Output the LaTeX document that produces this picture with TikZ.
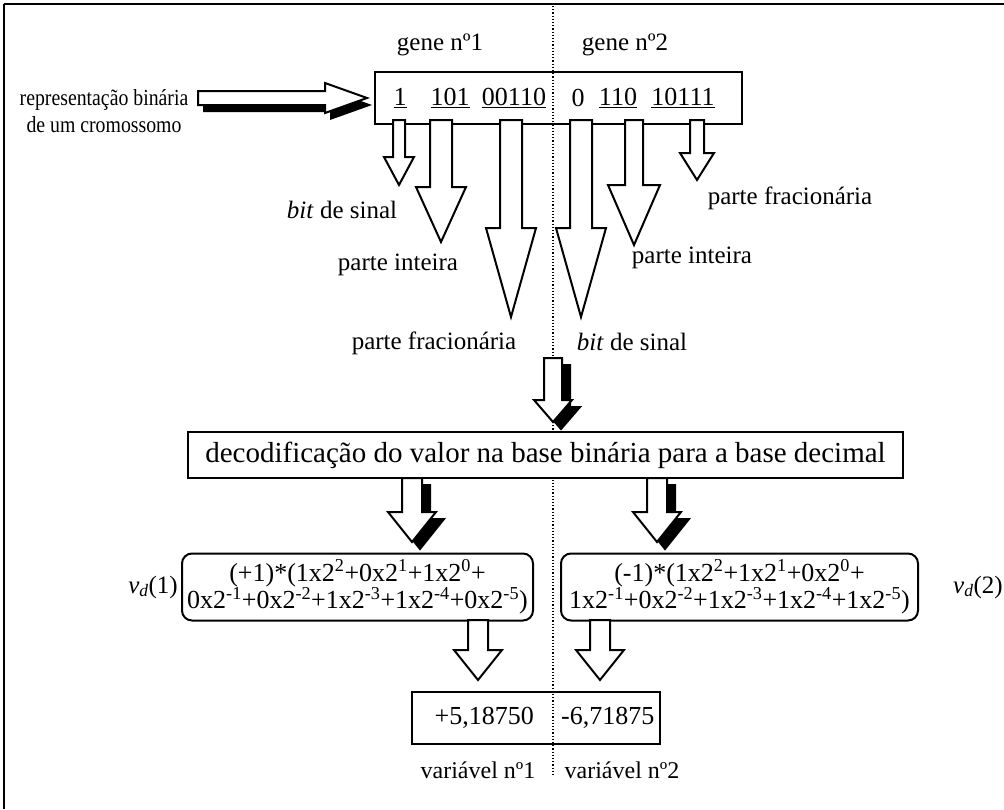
\documentclass[tikz,border=0pt]{standalone}
\usepackage{fontspec}
\usepackage{graphicx}
\setmainfont{Liberation Serif}
% block arrow pointing down: x, top, head start, tip, shaft half width, head half width
\newcommand\blockdown[7][]{%
  \filldraw[blk,#1] (#2-#6,#3) -- (#2+#6,#3) -- (#2+#6,#4) -- (#2+#7,#4)
    -- (#2,#5) -- (#2-#7,#4) -- (#2-#6,#4) -- cycle;}
% block arrow pointing down with a black drop shadow
\newcommand\shadowdown[6]{%
  \begin{scope}[shift={(8,7)}]\blockdown[fill=black]{#1}{#2}{#3}{#4}{#5}{#6}\end{scope}
  \blockdown{#1}{#2}{#3}{#4}{#5}{#6}}
% slightly condensed line of text
\newcommand\narrow[1]{\scalebox{0.86}[1]{#1}}
\begin{document}
\begin{tikzpicture}[x=1pt,y=-1pt,
  blk/.style={draw=black,fill=white,line width=2pt,line join=miter},
  box/.style={draw=black,line width=2pt,inner sep=0pt},
  lbl/.style={inner sep=0pt,font=\fontsize{25}{28}\selectfont},
  dig/.style={inner sep=0pt,font=\fontsize{26}{28}\selectfont},
  formula/.style={box,rounded corners=10pt,minimum height=67pt,align=center,
    font=\fontsize{26}{25}\selectfont},
  frm/.style={line width=2pt},
  divider/.style={dotted,line width=1.2pt}]
\useasboundingbox (0,0) rectangle (1004,809);

% page frame (top and left edges)
\draw[frm] (4,4) -- (1004,4);
\draw[frm] (4,4) -- (4,809);

% divider between the two genes
\coordinate (divtop) at (553,6);
\coordinate (divbot) at (553,775);
\draw[divider] (divtop) -- (divbot);

% gene titles
\node[lbl] (g1) at (440,45) {gene nº1};
\node[lbl] (g2) at (625,45) {gene nº2};

% chromosome
\node[inner sep=0pt,align=center,font=\fontsize{23}{27}\selectfont] (rep) at (104,111)
  {\narrow{representação binária}\\\narrow{de um cromossomo}};
\node[box,minimum width=367pt,minimum height=52pt] (crom) at (558.5,98) {};
\node[dig] (b1) at (400,98) {\underline{1}};
\node[dig] (b2) at (450,98) {\underline{101}};
\node[dig] (b3) at (514,98) {\underline{00110}};
\node[dig] (b4) at (578,98) {0};
\node[dig] (b5) at (618,98) {\underline{110}};
\node[dig] (b6) at (683,98) {\underline{10111}};

% input arrow with shadow
\begin{scope}[shift={(5,7)}]
  \fill (198,91) -- (325,91) -- (325,83) -- (367,98) -- (325,113) -- (325,105) -- (198,105) -- cycle;
\end{scope}
\filldraw[blk] (198,91) -- (325,91) -- (325,83) -- (367,98) -- (325,113) -- (325,105) -- (198,105) -- cycle;

% arrows from the bit groups
\blockdown{399}{120}{157}{185}{6}{15}
\blockdown{441}{120}{187}{242}{11}{25}
\blockdown{511}{120}{228}{317}{11}{25}
\blockdown{581}{120}{228}{317}{11}{25}
\blockdown{634}{120}{185}{245}{9}{26}
\blockdown{697}{120}{153}{180}{7}{17}

% bit group labels
\node[lbl] (bs1) at (342,210) {\textit{bit} de sinal};
\node[lbl] (pi1) at (398,265) {parte inteira};
\node[lbl] (pf1) at (434,343) {parte fracionária};
\node[lbl] (bs2) at (632,342) {\textit{bit} de sinal};
\node[lbl] (pi2) at (692,258) {parte inteira};
\node[lbl] (pf2) at (790,198) {parte fracionária};

% decoding step
\shadowdown{553}{358}{400}{422}{9}{19}
\node[box,fill=white,minimum width=715pt,minimum height=46pt,
  font=\fontsize{29}{32}\selectfont] (dec) at (545.5,455)
  {decodificação do valor na base binária para a base decimal};
\shadowdown{412}{478}{512}{542}{10}{24}
\shadowdown{657}{478}{512}{542}{10}{24}

% decoded expressions
\node[formula,minimum width=351pt] (vd1) at (357.5,587)
  {(+1)*(1x2\textsuperscript{2}+0x2\textsuperscript{1}+1x2\textsuperscript{0}+\\
   0x2\textsuperscript{-1}+0x2\textsuperscript{-2}+1x2\textsuperscript{-3}+1x2\textsuperscript{-4}+0x2\textsuperscript{-5})};
\node[formula,minimum width=357pt] (vd2) at (739.5,587)
  {(-1)*(1x2\textsuperscript{2}+1x2\textsuperscript{1}+0x2\textsuperscript{0}+\\
   1x2\textsuperscript{-1}+0x2\textsuperscript{-2}+1x2\textsuperscript{-3}+1x2\textsuperscript{-4}+1x2\textsuperscript{-5})};
\node[lbl,anchor=east] (vl1) at ([xshift=-3pt]vd1.west) {\textit{v}\textsubscript{\textit{d}}(1)};
\node[lbl,anchor=west] (vl2) at ([xshift=34pt]vd2.east) {\textit{v}\textsubscript{\textit{d}}(2)};

\blockdown{478}{620}{650}{680}{10}{24}
\blockdown{600}{620}{650}{680}{10}{24}

% resulting variables
\node[box,minimum width=248pt,minimum height=52pt] (res) at (536,718) {};
\node[dig,anchor=east] (r1) at (534,718) {+5,18750};
\node[dig,anchor=west] (r2) at (561,718) {-6,71875};
\node[lbl,font=\fontsize{24}{28}\selectfont] (v1) at (478,770) {variável nº1};
\node[lbl,font=\fontsize{24}{28}\selectfont] (v2) at (622,770) {variável nº2};
\end{tikzpicture}
\end{document}
